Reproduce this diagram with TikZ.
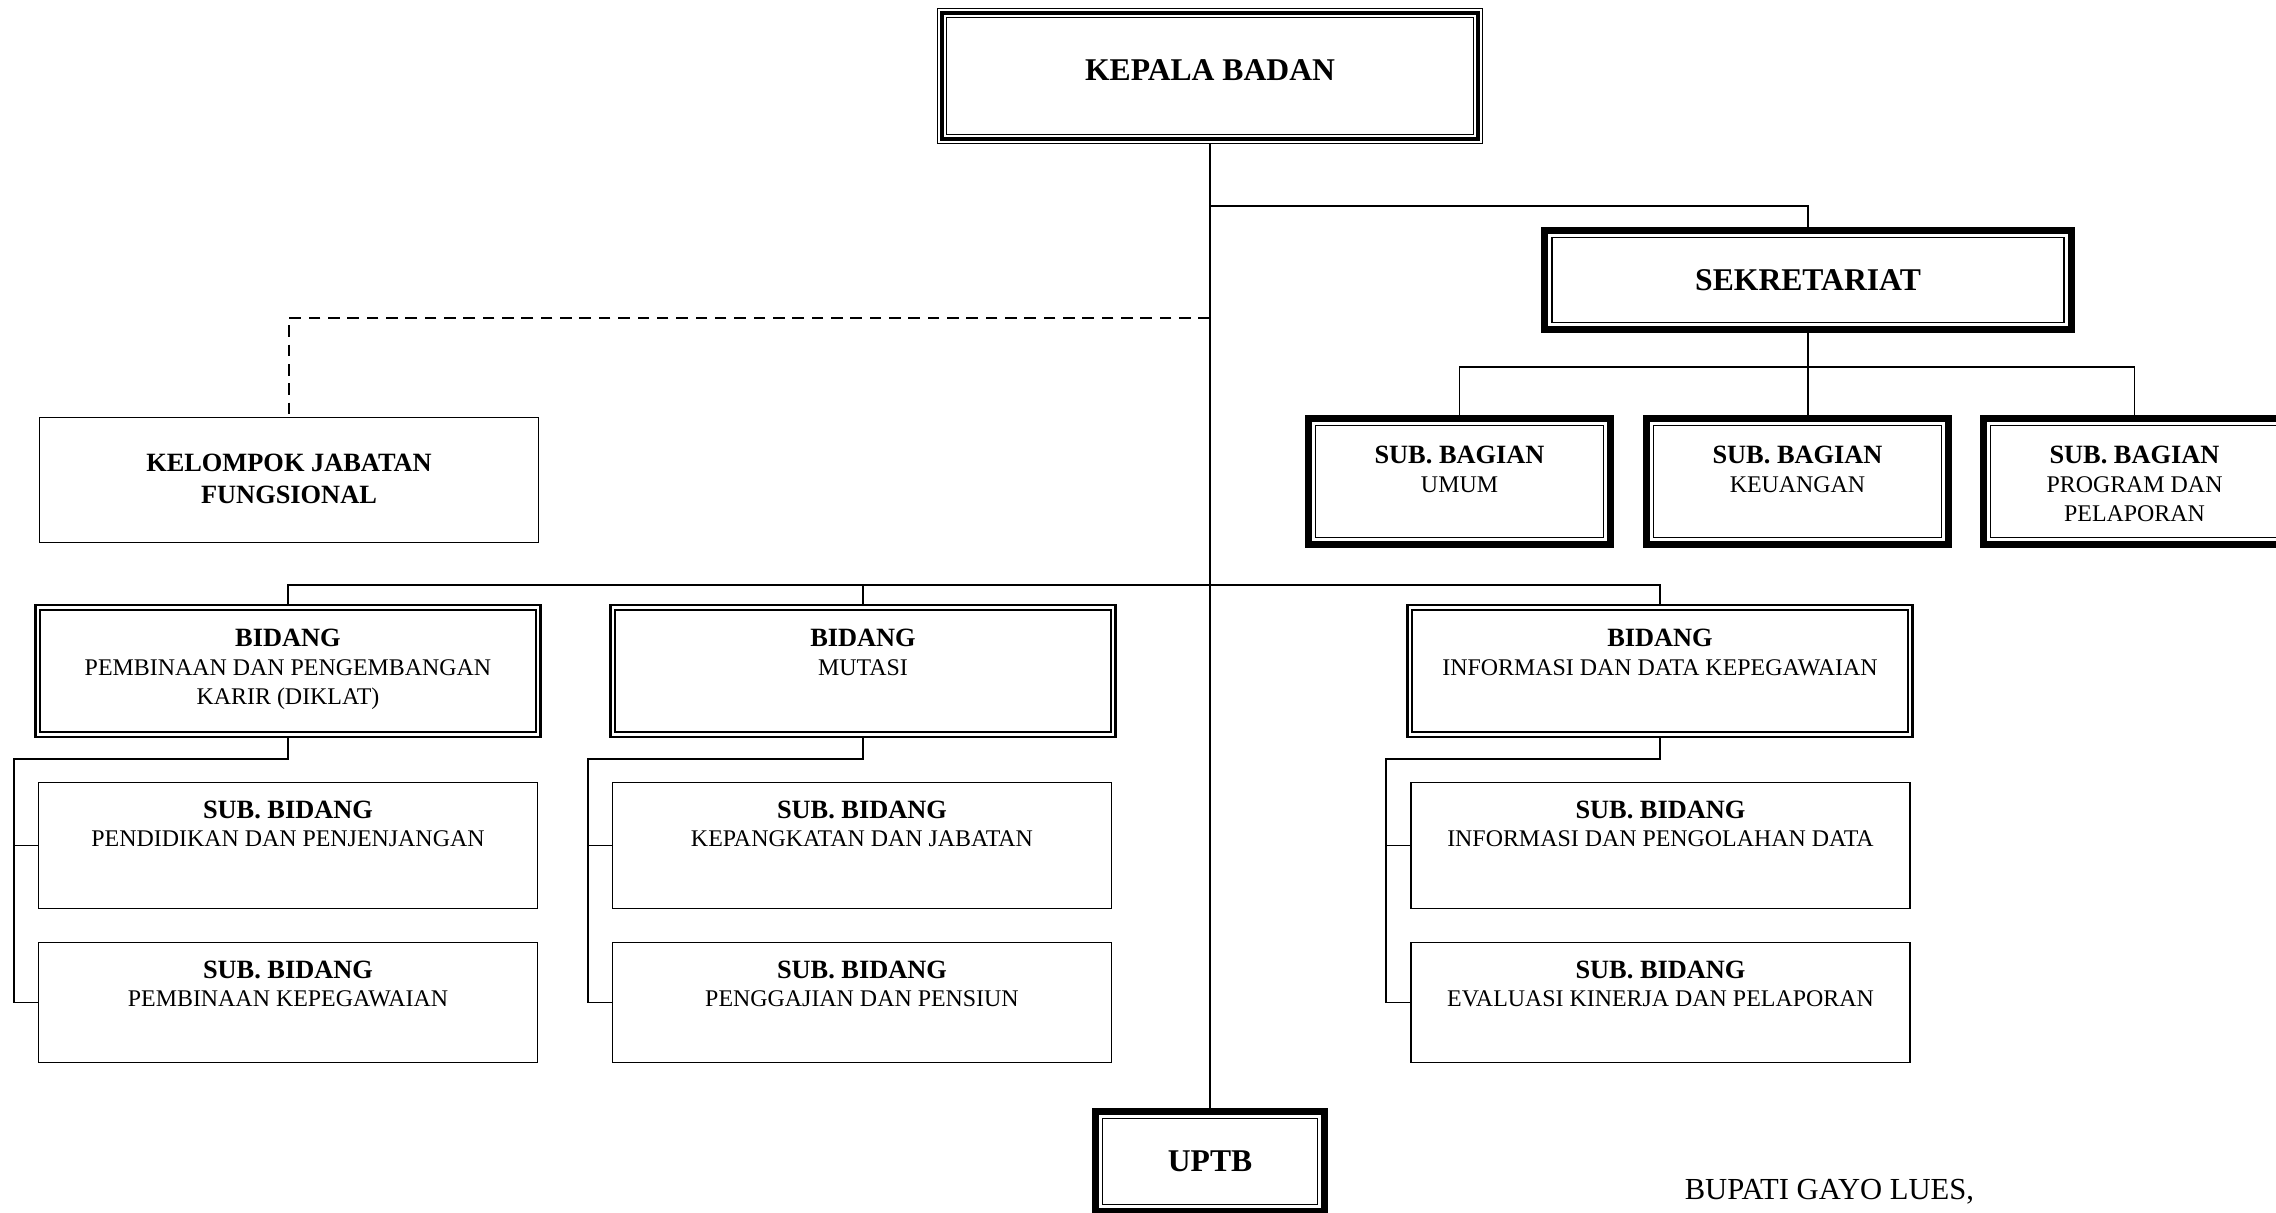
\documentclass[tikz,border=0pt]{standalone}
\usepackage{fontspec}
\setmainfont{Liberation Serif}
\usepackage{tikz}

\newcommand{\jdl}[1]{{\bfseries\fontsize{7.5}{8.2}\selectfont #1}}

\tikzset{
  ganda/.style={draw, line width=0.3pt, minimum width=5.45cm, minimum height=1.35cm, text depth=3.4pt, font=\bfseries\fontsize{9}{11}\selectfont},
  tebal/.style={draw, line width=2pt, font=\bfseries\fontsize{9}{11}\selectfont},
  bidang/.style={draw, line width=0.7pt, minimum width=5.045cm, minimum height=1.315cm},
  tipis/.style={draw, line width=0.43pt, minimum width=4.985cm},
  isi/.style={anchor=north, inner sep=0pt, align=center, font=\fontsize{6.8}{8.2}\selectfont},
}

\begin{document}
\begin{tikzpicture}[x=0.01cm, y=-0.01cm, line width=0.43pt]
\useasboundingbox (0,0) rectangle (2276,1213);
\clip (0,0) rectangle (2276,1213);
% kotak
\node [ganda] (kepala) at (1210,76) {KEPALA BADAN};
\node [tebal, minimum width=5.26cm, minimum height=0.99cm] (sek) at (1808,280) {SEKRETARIAT};
\node [tebal, minimum width=3.02cm, minimum height=1.26cm, label={[isi, yshift=-8.6pt]north:{\jdl{SUB. BAGIAN}\\UMUM}}] (umum) at (1459.5,481.5) {};
\node [tebal, minimum width=3.02cm, minimum height=1.26cm, label={[isi, yshift=-8.6pt]north:{\jdl{SUB. BAGIAN}\\KEUANGAN}}] (keu) at (1797.5,481.5) {};
\node [tebal, minimum width=3.02cm, minimum height=1.26cm, label={[isi, yshift=-8.6pt]north:{\jdl{SUB. BAGIAN}\\PROGRAM DAN\\PELAPORAN}}] (prog) at (2134.5,481.5) {};
\node [tipis, minimum height=1.25cm, label={[isi, yshift=-10.4pt, font=\bfseries\fontsize{7.5}{9.1}\selectfont]north:{KELOMPOK JABATAN\\FUNGSIONAL}}] (kjf) at (289,480) {};
\node [bidang, label={[isi, yshift=-6.9pt]north:{\jdl{BIDANG}\\PEMBINAAN DAN PENGEMBANGAN\\KARIR (DIKLAT)}}] (bid1) at (288,671) {};
\node [bidang, label={[isi, yshift=-6.9pt]north:{\jdl{BIDANG}\\MUTASI}}] (bid2) at (863,671) {};
\node [bidang, label={[isi, yshift=-6.9pt]north:{\jdl{BIDANG}\\INFORMASI DAN DATA KEPEGAWAIAN}}] (bid3) at (1660,671) {};
\node [tipis, minimum height=1.255cm, label={[isi, yshift=-5.1pt]north:{\jdl{SUB. BIDANG}\\PENDIDIKAN DAN PENJENJANGAN}}] (suba1) at (288,845.5) {};
\node [tipis, minimum height=1.195cm, label={[isi, yshift=-5.1pt]north:{\jdl{SUB. BIDANG}\\PEMBINAAN KEPEGAWAIAN}}] (subb1) at (288,1002.5) {};
\node [tipis, minimum height=1.255cm, label={[isi, yshift=-5.1pt]north:{\jdl{SUB. BIDANG}\\KEPANGKATAN DAN JABATAN}}] (suba2) at (862,845.5) {};
\node [tipis, minimum height=1.195cm, label={[isi, yshift=-5.1pt]north:{\jdl{SUB. BIDANG}\\PENGGAJIAN DAN PENSIUN}}] (subb2) at (862,1002.5) {};
\node [tipis, minimum height=1.255cm, label={[isi, yshift=-5.1pt]north:{\jdl{SUB. BIDANG}\\INFORMASI DAN PENGOLAHAN DATA}}] (suba3) at (1660.5,845.5) {};
\node [tipis, minimum height=1.195cm, label={[isi, yshift=-5.1pt]north:{\jdl{SUB. BIDANG}\\EVALUASI KINERJA DAN PELAPORAN}}] (subb3) at (1660.5,1002.5) {};
\node [tebal, minimum width=2.29cm, minimum height=1.0cm] (uptb) at (1210,1161.5) {UPTB};
\node [anchor=base west, inner sep=0pt, font=\fontsize{8.7}{10}\selectfont] (bupati) at (1684,1199) {BUPATI GAYO LUES,};
% bingkai dalam
\draw [line width=1.14pt] ([shift={(5,5)}]kepala.north west) rectangle ([shift={(-5,-5)}]kepala.south east);
\draw [line width=0.3pt] ([shift={(9.5,9.5)}]kepala.north west) rectangle ([shift={(-9.5,-9.5)}]kepala.south east);
\foreach \n in {sek,umum,keu,prog,uptb}
  \draw [line width=0.43pt] ([shift={(10.5,10.5)}]\n.north west) rectangle ([shift={(-10.5,-10.5)}]\n.south east);
\foreach \n in {bid1,bid2,bid3}
  \draw [line width=0.57pt] ([shift={(6,6)}]\n.north west) rectangle ([shift={(-6,-6)}]\n.south east);
% garis
\draw (kepala.south) -- (uptb.north);
\coordinate (j1) at (1210,206);
\draw (j1) -| (sek.north);
\coordinate (j2) at (1210,318);
\draw [dash pattern=on 3.3pt off 2.2pt] (j2) -| (kjf.north);
\coordinate (j3) at (1210,585);
\draw (bid1.north) |- (j3) -| (bid3.north);
\draw (bid2.north) -- (bid2.north |- j3);
\coordinate (j4) at (1808,367);
\draw (sek.south) -- (sek.south |- keu.north);
\draw (umum.north) |- (j4) -| (prog.north);
\foreach \i/\k in {1/14,2/588,3/1386} {
  \coordinate (k\i) at (\k,759);
  \draw (bid\i.south) |- (k\i) |- (subb\i.west);
  \draw (k\i |- suba\i.west) -- (suba\i.west);
}
\end{tikzpicture}
\end{document}
